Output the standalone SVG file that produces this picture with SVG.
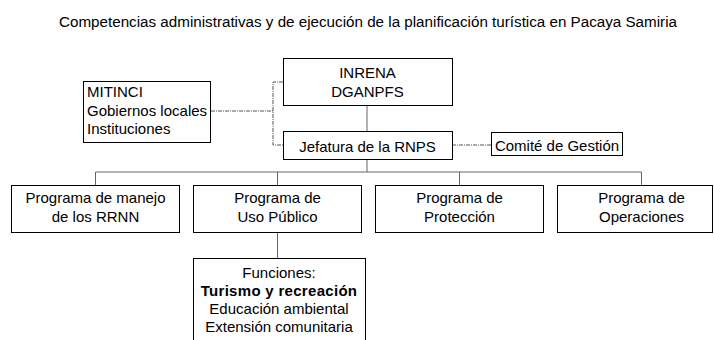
<svg xmlns="http://www.w3.org/2000/svg" width="714" height="340" viewBox="0 0 714 340">
<style>
text{font-family:"Liberation Sans",Arial,sans-serif;font-size:15px;fill:#000}
.t{font-size:15.2px}
.c{text-anchor:middle}
.b{font-weight:bold}
rect{fill:#fff;stroke:#000;stroke-width:1}
.s{stroke:#666;stroke-width:1;fill:none}
.d{stroke:#555;stroke-width:1;fill:none;stroke-dasharray:4,1,1,1}
</style>
<rect x="0" y="0" width="714" height="340" style="stroke:none"/>
<text class="t c" x="368" y="27">Competencias administrativas y de ejecución de la planificación turística en Pacaya Samiria</text>
<g id="connectors">
<path class="d" d="M211,111 H273 M283,82 H273 V145 H283 M452,145 H491"/>
<path class="s" d="M367,105 V131 M367,160 V172 M95.5,185 V172 H641.5 V185 M277.5,172 V185 M459.5,172 V185 M277.5,232 V258"/>
</g>
<g id="inrena"><rect x="283.5" y="58.5" width="169" height="47"/><text class="c" x="367.5" y="78">INRENA</text><text class="c" x="367.5" y="97">DGANPFS</text></g>
<g id="mitinci"><rect x="83.5" y="81.5" width="127" height="61"/><text x="87" y="97">MITINCI</text><text x="87" y="116">Gobiernos locales</text><text x="87" y="134">Instituciones</text></g>
<g id="jefatura"><rect x="283.5" y="131.5" width="169" height="28"/><text class="c" x="367.5" y="152">Jefatura de la RNPS</text></g>
<g id="comite"><rect x="491.5" y="132.5" width="131" height="23"/><text class="c" x="557" y="151">Comité de Gestión</text></g>
<g id="p1"><rect x="11.5" y="185.5" width="168" height="47"/><text class="c" x="95.5" y="203">Programa de manejo</text><text class="c" x="95.5" y="222">de los RRNN</text></g>
<g id="p2"><rect x="193.5" y="185.5" width="168" height="47"/><text class="c" x="277.5" y="203">Programa de</text><text class="c" x="277.5" y="222">Uso Público</text></g>
<g id="p3"><rect x="375.5" y="185.5" width="168" height="47"/><text class="c" x="459.5" y="203">Programa de</text><text class="c" x="459.5" y="222">Protección</text></g>
<g id="p4"><rect x="557.5" y="185.5" width="155" height="47"/><text class="c" x="641.5" y="203">Programa de</text><text class="c" x="641.5" y="222">Operaciones</text></g>
<g id="funciones"><rect x="193.5" y="258.5" width="172" height="90"/><text class="c" x="279" y="278">Funciones:</text><text class="c b" x="279" y="296" style="letter-spacing:0.3px">Turismo y recreación</text><text class="c" x="279" y="314">Educación ambiental</text><text class="c" x="279" y="332">Extensión comunitaria</text></g>
</svg>
